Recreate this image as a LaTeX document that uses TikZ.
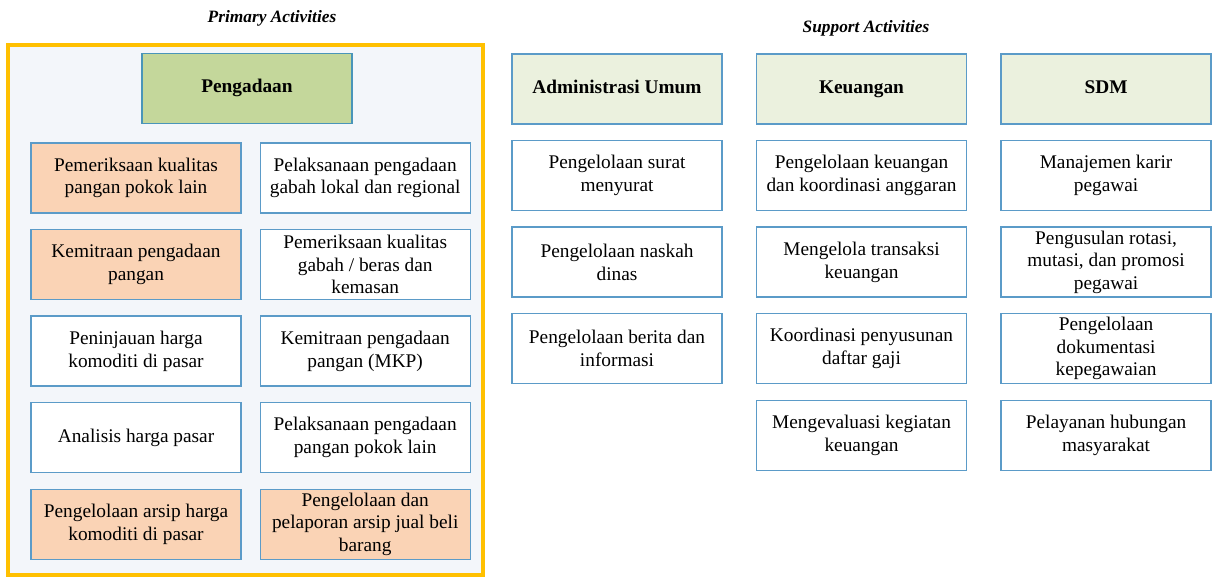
\documentclass[tikz,border=0pt]{standalone}
\usepackage{fontspec}
\setmainfont{Liberation Serif}
\usepackage{tikz}
\usetikzlibrary{positioning}
\definecolor{frameyel}{HTML}{FFC000}
\definecolor{framebg}{HTML}{F3F6FA}
\definecolor{edge}{HTML}{5B9BC8}
\definecolor{olive}{HTML}{C4D79B}
\definecolor{sage}{HTML}{EBF1DE}
\definecolor{peach}{HTML}{FAD3B5}

\begin{document}
\begin{tikzpicture}[x=0.75pt,y=-0.75pt,node distance=11.5pt and 25pt,every node/.style={font=\fontsize{14.5}{17}\selectfont,align=center},box/.style={draw=edge,fill=white,line width=0.9pt,minimum width=157.5pt,minimum height=52.5pt,inner sep=0.5pt},headbox/.style={box,fill=sage,text height=10pt,text depth=3.5pt,font=\fontsize{14.5}{17}\selectfont\bfseries},peachbox/.style={box,fill=peach},title/.style={font=\fontsize{13}{15}\selectfont\bfseries\itshape}]
\useasboundingbox (0,0) rectangle (1213,577);
% primary activities
\node[title] (primtitle) at (272,18) {Primary Activities};
\node[draw=frameyel,fill=framebg,line width=3pt,minimum width=356.25pt,minimum height=397.5pt,inner sep=0pt] (primframe) at (245.5,310) {};
\node[headbox,fill=olive,draw=edge!80!teal] (pengadaan) at (247,88.5) {Pengadaan};
\node[peachbox] (cekpangan) at (136,178) {Pemeriksaan kualitas\\pangan pokok lain};
\node[peachbox,below=of cekpangan] (kemitraan) {Kemitraan pengadaan\\pangan};
\node[box,below=of kemitraan] (tinjau) {Peninjauan harga\\komoditi di pasar};
\node[box,below=of tinjau] (analisis) {Analisis harga pasar};
\node[peachbox,below=of analisis] (arsipharga) {Pengelolaan arsip harga\\komoditi di pasar};
\node[box,right=13.5pt of cekpangan] (gabah) {Pelaksanaan pengadaan\\gabah lokal dan regional};
\node[box,below=of gabah] (cekgabah) {Pemeriksaan kualitas\\gabah / beras dan\\kemasan};
\node[box,below=of cekgabah] (mkp) {Kemitraan pengadaan\\pangan (MKP)};
\node[box,below=of mkp] (pokoklain) {Pelaksanaan pengadaan\\pangan pokok lain};
\node[peachbox,below=of pokoklain] (arsipjual) {Pengelolaan dan\\pelaporan arsip jual beli\\barang};
% support activities
\node[title] (supptitle) at (866,28) {Support Activities};
\node[headbox] (admin) at (617,89) {Administrasi Umum};
\node[headbox,right=of admin] (keuangan) {Keuangan};
\node[headbox,right=of keuangan] (sdm) {SDM};
\node[box,below=of admin] (surat) {Pengelolaan surat\\menyurat};
\node[box,below=of surat] (naskah) {Pengelolaan naskah\\dinas};
\node[box,below=of naskah] (berita) {Pengelolaan berita dan\\informasi};
\node[box,below=of keuangan] (anggaran) {Pengelolaan keuangan\\dan koordinasi anggaran};
\node[box,below=of anggaran] (transaksi) {Mengelola transaksi\\keuangan};
\node[box,below=of transaksi] (gaji) {Koordinasi penyusunan\\daftar gaji};
\node[box,below=of gaji] (evaluasi) {Mengevaluasi kegiatan\\keuangan};
\node[box,below=of sdm] (karir) {Manajemen karir\\pegawai};
\node[box,below=of karir] (rotasi) {Pengusulan rotasi,\\mutasi, dan promosi\\pegawai};
\node[box,below=of rotasi] (dokumen) {Pengelolaan\\dokumentasi\\kepegawaian};
\node[box,below=of dokumen] (humas) {Pelayanan hubungan\\masyarakat};
\end{tikzpicture}
\end{document}
